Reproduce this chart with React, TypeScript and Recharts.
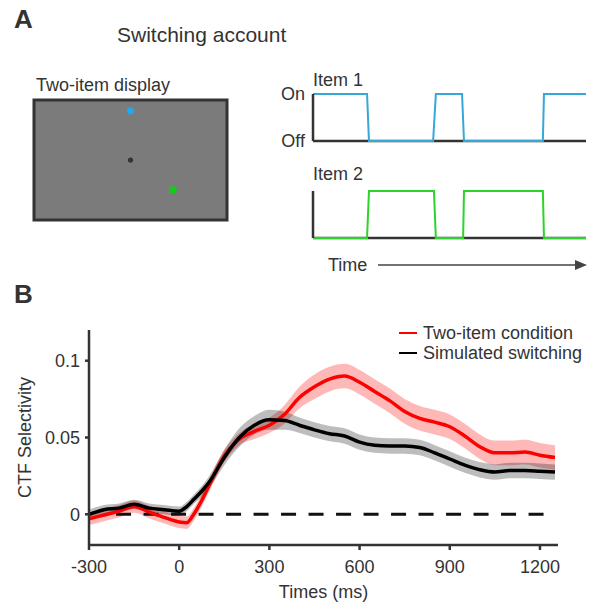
import {
  Area,
  ComposedChart,
  Line,
  LineChart,
  ReferenceArea,
  ReferenceLine,
  Scatter,
  ScatterChart,
  XAxis,
  YAxis,
} from 'recharts';

const FONT = '"Liberation Sans", Arial, Helvetica, sans-serif';
const INK = '#333';

// panel A: on/off state of each item over (arbitrary) time, 0-100
const ITEM1_T = [0, 19.8, 20.5, 44, 45, 54.6, 55.3, 84.2, 84.6, 100];
const ITEM1_ON = [1, 1, 0, 0, 1, 1, 0, 0, 1, 1];
const ITEM2_T = [0, 19.8, 20.5, 44.3, 45, 55, 55.3, 84.2, 84.6, 100];
const ITEM2_ON = [0, 0, 1, 1, 0, 0, 1, 1, 0, 0];

// two-item display: item 1, fixation, item 2 (unit square)
const DISPLAY_X = [0.5, 0.5, 0.72];
const DISPLAY_Y = [0.91, 0.5, 0.25];
const DISPLAY_FILL = ['#1eaaee', '#333333', '#14cc14'];
const DISPLAY_R = [3.6, 2.6, 3.8];

// panel B
const TIMES = [
  -300, -250, -200, -150, -100, -50, 0, 25, 50, 75, 100, 150, 200, 250, 300, 350, 400,
  450, 500, 550, 600, 650, 700, 750, 800, 850, 900, 950, 1000, 1050, 1100, 1150, 1200,
  1250,
];
const TWO_ITEM = [
  -0.003, -0.0005, 0.002, 0.005, 0.0015, -0.002, -0.005, -0.0055, 0.0005, 0.009, 0.019,
  0.038, 0.049, 0.054, 0.058, 0.065, 0.076, 0.083, 0.088, 0.09, 0.086, 0.08, 0.074,
  0.067, 0.0625, 0.06, 0.057, 0.051, 0.044, 0.04, 0.04, 0.0405, 0.0385, 0.037,
];
const TWO_ITEM_SEM = [
  0.004, 0.004, 0.004, 0.004, 0.004, 0.004, 0.004, 0.004, 0.004, 0.004, 0.004, 0.004,
  0.004, 0.005, 0.005, 0.006, 0.007, 0.008, 0.008, 0.008, 0.008, 0.008, 0.008, 0.008,
  0.008, 0.008, 0.008, 0.008, 0.008, 0.008, 0.008, 0.008, 0.008, 0.008,
];
const SWITCHING = [
  0.0, 0.003, 0.004, 0.0065, 0.004, 0.003, 0.002, 0.005, 0.01, 0.015, 0.021, 0.037,
  0.05, 0.058, 0.0615, 0.061, 0.058, 0.055, 0.0525, 0.051, 0.047, 0.045, 0.0445, 0.0445,
  0.0435, 0.04, 0.036, 0.032, 0.029, 0.0275, 0.0285, 0.0285, 0.028, 0.0275,
];
const SWITCHING_SEM = [
  0.003, 0.003, 0.003, 0.003, 0.003, 0.003, 0.003, 0.003, 0.003, 0.0035, 0.004, 0.005,
  0.006, 0.006, 0.0065, 0.006, 0.005, 0.005, 0.005, 0.005, 0.005, 0.005, 0.005, 0.005,
  0.005, 0.005, 0.005, 0.005, 0.005, 0.005, 0.005, 0.005, 0.005, 0.005,
];
const X_TICKS = [-300, 0, 300, 600, 900, 1200];
const Y_TICKS = [0, 0.05, 0.1];

const TICK = { fontSize: 18, fill: INK, fontFamily: FONT };
const AXIS_LINE = { stroke: INK, strokeWidth: 2.5 };

function StepTrace({
  t,
  on,
  color,
  labels,
}: {
  t: number[];
  on: number[];
  color: string;
  labels: boolean;
}) {
  const data = t.map((x, i) => ({ t: x, v: on[i] }));
  return (
    <LineChart width={319} height={65} data={data} margin={{ top: 9, right: 3, bottom: 9, left: 0 }}>
      <XAxis type="number" dataKey="t" domain={[0, 100]} hide />
      <YAxis
        type="number"
        domain={[0, 1]}
        ticks={[0, 1]}
        interval={0}
        width={43}
        tickLine={false}
        axisLine={AXIS_LINE}
        tick={labels ? TICK : false}
        tickFormatter={(v: number) => (v ? 'On' : 'Off')}
      />
      <ReferenceLine y={0} stroke={INK} strokeWidth={2.5} />
      <Line dataKey="v" type="linear" stroke={color} strokeWidth={2} dot={false} isAnimationActive={false} />
    </LineChart>
  );
}

function Display() {
  const data = DISPLAY_X.map((x, i) => ({ x, y: DISPLAY_Y[i], i }));
  return (
    <ScatterChart width={210} height={140} margin={{ top: 10, right: 3, bottom: 10, left: 14 }}>
      <XAxis type="number" dataKey="x" domain={[0, 1]} hide />
      <YAxis type="number" dataKey="y" domain={[0, 1]} hide />
      <ReferenceArea x1={0} x2={1} y1={0} y2={1} fill="#7b7b7b" fillOpacity={1} stroke={INK} strokeWidth={3} />
      <Scatter
        data={data}
        isAnimationActive={false}
        shape={(p: any) => (
          <circle cx={p.cx} cy={p.cy} r={DISPLAY_R[p.payload.i]} fill={DISPLAY_FILL[p.payload.i]} />
        )}
      />
    </ScatterChart>
  );
}

function Selectivity() {
  const data = TIMES.map((t, i) => ({
    t,
    two: TWO_ITEM[i],
    twoBand: [TWO_ITEM[i] - TWO_ITEM_SEM[i], TWO_ITEM[i] + TWO_ITEM_SEM[i]],
    sw: SWITCHING[i],
    swBand: [SWITCHING[i] - SWITCHING_SEM[i], SWITCHING[i] + SWITCHING_SEM[i]],
  }));
  return (
    <ComposedChart width={589} height={325} data={data} margin={{ top: 50, right: 31, bottom: 30, left: 20 }}>
      <XAxis
        type="number"
        dataKey="t"
        domain={[-300, 1260]}
        ticks={X_TICKS}
        allowDataOverflow
        height={30}
        tick={TICK}
        tickSize={5}
        tickMargin={10}
        tickLine={AXIS_LINE}
        axisLine={AXIS_LINE}
        label={{
          value: 'Times (ms)',
          position: 'bottom',
          offset: 10,
          style: { fontSize: 18, fill: INK, fontFamily: FONT },
        }}
      />
      <YAxis
        type="number"
        domain={[-0.02, 0.12]}
        ticks={Y_TICKS}
        allowDataOverflow
        width={69}
        tick={TICK}
        tickSize={4}
        tickMargin={5}
        tickLine={AXIS_LINE}
        axisLine={AXIS_LINE}
        label={{
          value: 'CTF Selectivity',
          angle: -90,
          position: 'insideLeft',
          offset: 5,
          style: { fontSize: 18, fill: INK, fontFamily: FONT, textAnchor: 'middle' },
        }}
      />
      <ReferenceLine
        segment={[
          { x: -210, y: 0 },
          { x: 1212, y: 0 },
        ]}
        stroke="#111"
        strokeWidth={3}
        strokeDasharray="15 12.5"
      />
      <Area dataKey="twoBand" type="monotone" stroke="none" fill="#ff0000" fillOpacity={0.28} isAnimationActive={false} />
      <Area dataKey="swBand" type="monotone" stroke="none" fill="#000000" fillOpacity={0.26} isAnimationActive={false} />
      <Line dataKey="two" type="monotone" stroke="#ff0000" strokeWidth={3.5} dot={false} isAnimationActive={false} />
      <Line dataKey="sw" type="monotone" stroke="#000000" strokeWidth={3.5} dot={false} isAnimationActive={false} />
    </ComposedChart>
  );
}

function LegendRow({ color, label }: { color: string; label: string }) {
  return (
    <div style={{ display: 'flex', alignItems: 'center', height: 20 }}>
      <span style={{ width: 18, height: 2, background: color, marginRight: 6 }} />
      <span>{label}</span>
    </div>
  );
}

export default function App() {
  return (
    <div
      style={{
        position: 'absolute',
        left: 0,
        top: 0,
        width: 589,
        height: 605,
        background: '#fff',
        fontFamily: FONT,
        color: INK,
      }}
    >
      <div style={{ position: 'absolute', left: 20, top: 90 }}>
        <Display />
      </div>
      <div style={{ position: 'absolute', left: 270, top: 85 }}>
        <StepTrace t={ITEM1_T} on={ITEM1_ON} color="#35a8d8" labels />
      </div>
      <div style={{ position: 'absolute', left: 270, top: 182 }}>
        <StepTrace t={ITEM2_T} on={ITEM2_ON} color="#2ad42a" labels={false} />
      </div>
      <div style={{ position: 'absolute', left: 0, top: 280 }}>
        <Selectivity />
      </div>
      <div style={{ position: 'absolute', left: 399, top: 323, fontSize: 18 }}>
        <LegendRow color="#ff0000" label="Two-item condition" />
        <LegendRow color="#000000" label="Simulated switching" />
      </div>
      <svg
        width={589}
        height={605}
        style={{ position: 'absolute', left: 0, top: 0, pointerEvents: 'none' }}
        fontFamily={FONT}
        fill={INK}
      >
        <text x={14} y={28} fontSize={26} fontWeight="bold">A</text>
        <text x={117} y={42} fontSize={21}>Switching account</text>
        <text x={36} y={91} fontSize={18}>Two-item display</text>
        <text x={313} y={86} fontSize={18}>Item 1</text>
        <text x={313} y={180} fontSize={18}>Item 2</text>
        <text x={328} y={271} fontSize={18}>Time</text>
        <line x1={378} y1={265} x2={577} y2={265} stroke="#444" strokeWidth={1.5} />
        <polygon points="575,260 587,265 575,270" fill="#444" />
        <text x={14} y={303} fontSize={26} fontWeight="bold">B</text>
      </svg>
    </div>
  );
}
